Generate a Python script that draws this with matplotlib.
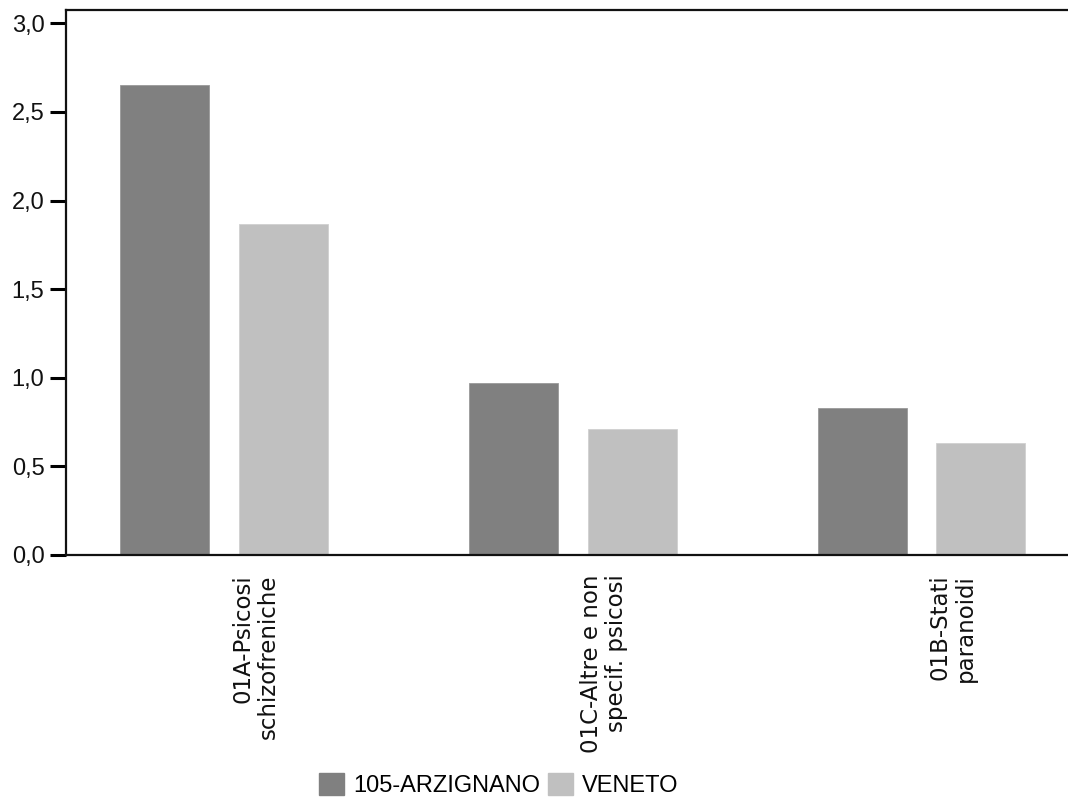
import matplotlib
matplotlib.use("Agg")
import matplotlib.pyplot as plt
import numpy as np
from matplotlib.patches import Patch

categories = ["01A-Psicosi\nschizofreniche", "01C-Altre e non\nspecif. psicosi", "01B-Stati\nparanoidi"]
series_names = ["105-ARZIGNANO", "VENETO"]
arzignano = [2.65, 0.97, 0.83]
veneto = [1.87, 0.71, 0.63]
yticks = [0.0, 0.5, 1.0, 1.5, 2.0, 2.5, 3.0]
ytick_labels = ["0,0", "0,5", "1,0", "1,5", "2,0", "2,5", "3,0"]

colors = ["#808080", "#c0c0c0"]

plt.rcParams['font.family'] = ['Liberation Sans', 'DejaVu Sans']

fig = plt.figure(figsize=(10.68, 8.0), dpi=100)
ax = fig.add_axes([66/1068, 1 - 555/800, 1 - 66/1068, (555 - 10)/800])

x = np.arange(len(categories))
w = 0.255
off = 0.17
ax.bar(x - off, arzignano, width=w, color=colors[0], edgecolor="#999999", linewidth=0.6)
ax.bar(x + off, veneto, width=w, color=colors[1], edgecolor="#d0d0d0", linewidth=0.6)

ax.set_xlim(-0.453, 2.42)
ax.set_ylim(0, 3.075)
ax.set_yticks(yticks)
ax.set_yticklabels(ytick_labels, fontsize=17, color="#111111")
ax.tick_params(axis='y', direction='out', length=11.5, width=2.2, pad=4)

ax.set_xticks(x + 0.09)
ax.set_xticklabels(categories, rotation=90, fontsize=16.5, ha='center', va='top',
                   multialignment='right', color="#111111", linespacing=1.15,
                   family=['DejaVu Sans'])
ax.tick_params(axis='x', length=0, pad=14)

ax.spines['right'].set_visible(False)
for s in ['left', 'top', 'bottom']:
    ax.spines[s].set_linewidth(1.6)
    ax.spines[s].set_color("#111111")

handles = [Patch(facecolor=colors[0], edgecolor=colors[0]),
           Patch(facecolor=colors[1], edgecolor=colors[1])]
fig.legend(handles, series_names, loc='center', bbox_to_anchor=(499/1068, 1 - 785/800),
           ncol=2, frameon=False, fontsize=17, handlelength=1.06, handleheight=1.06,
           handletextpad=0.38, columnspacing=0.34, borderaxespad=0, borderpad=0)

fig.savefig("out.png", dpi=100)
